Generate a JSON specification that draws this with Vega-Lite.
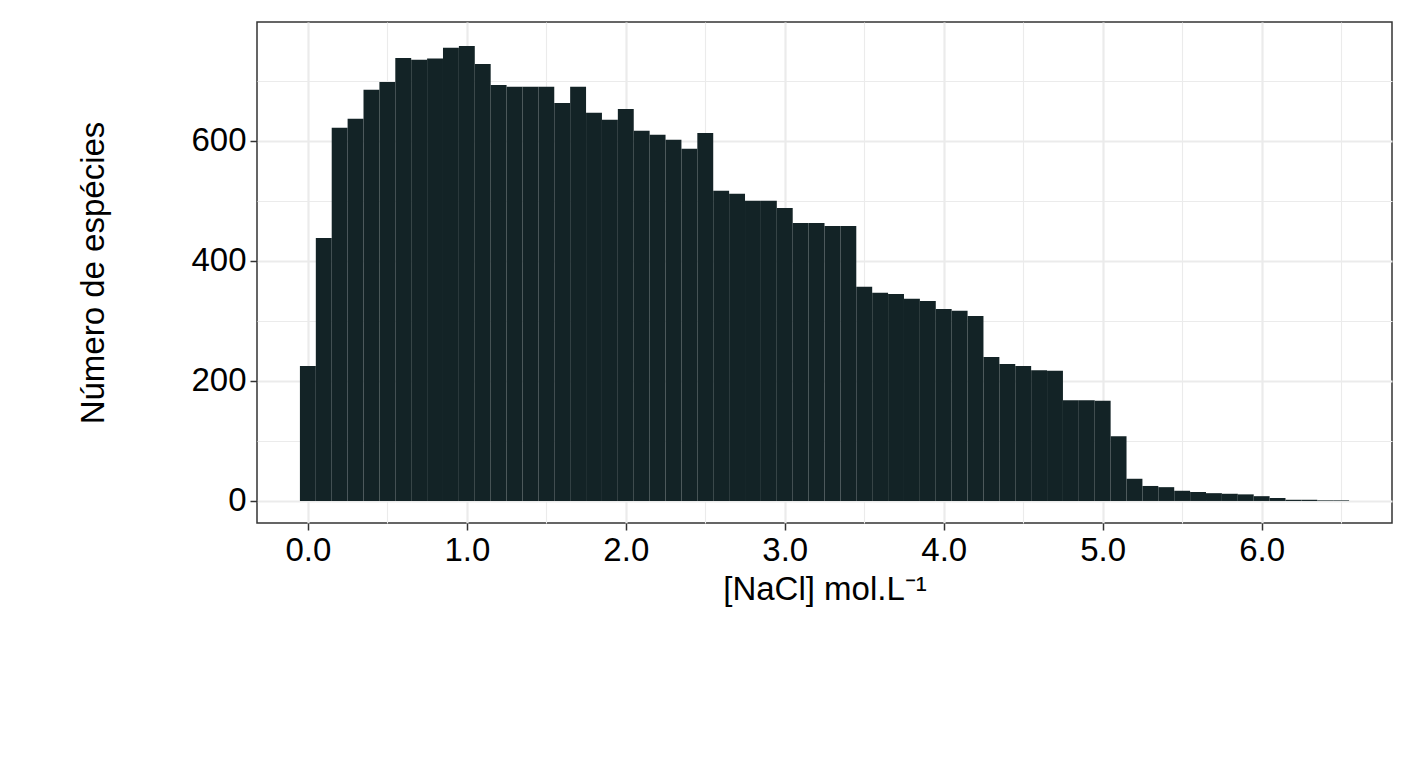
{"$schema":"https://vega.github.io/schema/vega-lite/v6.json","width":1135,"height":501,"autosize":{"type":"none"},"padding":{"left":257,"top":22,"right":25,"bottom":244},"background":"white",
"config":{"font":"Liberation Sans","view":{"stroke":"#333333","strokeWidth":1.5}},
"data":{"values":[
{"x":0.0,"n":225},{"x":0.1,"n":438},{"x":0.2,"n":622},{"x":0.3,"n":637},{"x":0.4,"n":685},{"x":0.5,"n":698},{"x":0.6,"n":738},{"x":0.7,"n":735},{"x":0.8,"n":737},{"x":0.9,"n":755},
{"x":1.0,"n":758},{"x":1.1,"n":728},{"x":1.2,"n":693},{"x":1.3,"n":690},{"x":1.4,"n":690},{"x":1.5,"n":690},{"x":1.6,"n":663},{"x":1.7,"n":690},{"x":1.8,"n":647},{"x":1.9,"n":635},
{"x":2.0,"n":653},{"x":2.1,"n":617},{"x":2.2,"n":610},{"x":2.3,"n":602},{"x":2.4,"n":587},{"x":2.5,"n":613},{"x":2.6,"n":517},{"x":2.7,"n":512},{"x":2.8,"n":500},{"x":2.9,"n":500},
{"x":3.0,"n":488},{"x":3.1,"n":463},{"x":3.2,"n":463},{"x":3.3,"n":458},{"x":3.4,"n":458},{"x":3.5,"n":357},{"x":3.6,"n":347},{"x":3.7,"n":345},{"x":3.8,"n":337},{"x":3.9,"n":333},
{"x":4.0,"n":320},{"x":4.1,"n":317},{"x":4.2,"n":308},{"x":4.3,"n":240},{"x":4.4,"n":228},{"x":4.5,"n":225},{"x":4.6,"n":218},{"x":4.7,"n":217},{"x":4.8,"n":168},{"x":4.9,"n":168},
{"x":5.0,"n":167},{"x":5.1,"n":108},{"x":5.2,"n":37},{"x":5.3,"n":25},{"x":5.4,"n":23},{"x":5.5,"n":17},{"x":5.6,"n":15},{"x":5.7,"n":13},{"x":5.8,"n":12},{"x":5.9,"n":11},
{"x":6.0,"n":8},{"x":6.1,"n":5},{"x":6.2,"n":2},{"x":6.3,"n":2},{"x":6.4,"n":1},{"x":6.5,"n":1}]},
"transform":[{"calculate":"datum.x-0.05","as":"x0"},{"calculate":"datum.x+0.05","as":"x1"}],
"mark":{"type":"rect","color":"#132326"},
"encoding":{
"x":{"field":"x0","type":"quantitative","scale":{"domain":[-0.32,6.82],"nice":false,"zero":false},
"axis":{"values":[-0.5,0,0.5,1,1.5,2,2.5,3,3.5,4,4.5,5,5.5,6,6.5],"labelExpr":"datum.value%1==0 && datum.value>=0 ? datum.label : ''","domain":false,"gridColor":"#ebebeb","gridWidth":{"condition":{"test":"datum.value%1==0","value":2.2},"value":1.1},"tickColor":"#333333","tickWidth":1.5,"tickSize":7,"tickOpacity":{"condition":{"test":"datum.value%1==0","value":1},"value":0},"labelFontSize":33,"labelColor":"#000000","labelPadding":4,"title":"[NaCl] mol.L⁻¹","titleFontSize":33,"titleFontWeight":"normal","titleColor":"#000000","titlePadding":6}},
"x2":{"field":"x1"},
"y":{"field":"n","type":"quantitative","scale":{"domain":[-36.7,798],"nice":false,"zero":false},
"axis":{"values":[-100,0,100,200,300,400,500,600,700],"labelExpr":"datum.value%200==0 && datum.value>=0 ? datum.label : ''","domain":false,"gridColor":"#ebebeb","gridWidth":{"condition":{"test":"datum.value%200==0","value":2.2},"value":1.1},"tickColor":"#333333","tickWidth":1.5,"tickSize":7,"tickOpacity":{"condition":{"test":"datum.value%200==0","value":1},"value":0},"labelFontSize":33,"labelColor":"#000000","labelPadding":4,"title":"Número de espécies","titleFontSize":33,"titleFontWeight":"normal","titleColor":"#000000","titlePadding":80}},
"y2":{"datum":0}}}
